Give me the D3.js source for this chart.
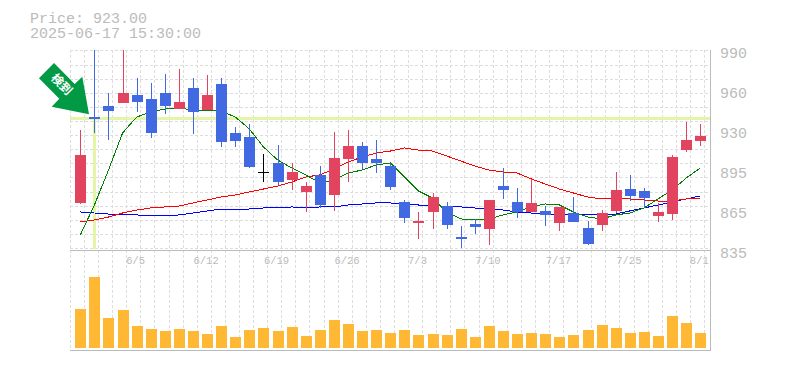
<!DOCTYPE html>
<html>
<head>
<meta charset="utf-8">
<script src="https://cdn.jsdelivr.net/npm/d3@7"></script>
<style>
  html, body { margin: 0; padding: 0; background: #fff; }
  svg { display: block; }
  text { font-family: "Liberation Mono", monospace; fill: #bbb; }
</style>
</head>
<body>
<div class="canvas"></div>
<script>
// chart data
const dates = ["5/30","6/2","6/3","6/4","6/5","6/6","6/9","6/10","6/11","6/12","6/13","6/16","6/17","6/18","6/19","6/20","6/23","6/24","6/25","6/26","6/27","6/30","7/1","7/2","7/3","7/4","7/7","7/8","7/9","7/10","7/11","7/14","7/15","7/16","7/17","7/18","7/22","7/23","7/24","7/25","7/28","7/29","7/30","7/31","8/1"];
const opens = [873.8,940.4,948.9,951.2,957.5,954.4,959.0,946.6,962.9,945.8,966.0,928.0,924.9,897.8,904.8,891.6,882.3,895.5,880.0,907.9,917.9,907.9,902.4,874.5,858.3,866.8,871.4,847.4,857.5,853.6,886.9,874.5,866.8,867.6,858.3,866.0,854.4,856.7,867.6,884.6,883.0,863.7,865.2,914.8,921.8];
const highs = [930.3,992.3,959.0,992.3,970.6,966.8,973.7,977.6,970.6,972.9,970.6,932.7,935.0,911.7,918.7,904.8,890.0,902.4,928.8,930.3,921.0,922.6,904.8,876.1,866.8,881.5,874.5,855.9,861.4,876.1,900.9,885.4,892.4,871.4,870.7,878.4,859.8,868.3,897.8,895.5,885.4,873.8,911.0,936.5,935.0];
const lows = [873.0,928.0,922.6,951.2,944.3,924.1,942.7,946.6,927.2,945.8,917.2,917.2,900.9,890.0,887.7,883.8,866.8,869.9,867.6,890.0,900.1,897.0,883.8,858.3,845.9,853.6,853.6,838.9,849.7,841.2,876.9,862.1,866.8,855.9,852.1,859.0,841.2,852.1,866.0,875.3,869.9,859.0,860.6,913.3,917.9];
const closes = [911.0,938.8,945.0,959.0,952.0,928.0,948.9,952.0,944.3,957.5,921.0,921.8,901.7,897.8,890.0,897.8,886.9,872.2,908.6,917.9,904.8,904.8,886.2,862.1,859.8,878.4,856.7,845.9,855.2,876.1,883.8,866.8,873.8,864.5,870.7,859.0,842.0,866.0,883.8,879.2,877.6,866.8,909.4,922.6,925.7];
const volumes = [390,710,300,380,220,190,170,190,170,140,220,110,180,200,170,210,120,180,280,240,170,180,150,180,130,140,130,190,110,220,170,140,150,140,110,130,180,230,200,150,160,120,320,250,150];

// moving averages
const maShort = [849.0,872.2,899.3,928.0,940.4,944.3,946.6,947.4,945.8,945.8,945.0,940.4,931.1,917.2,907.1,900.9,895.5,889.3,891.6,897.0,899.3,903.2,904.8,893.9,883.0,877.6,866.8,861.4,860.6,861.4,864.5,866.8,870.7,873.0,872.2,866.8,862.9,861.4,864.5,866.0,869.9,876.9,883.8,893.1,900.9];
const maMid = [859.0,860.6,862.9,866.0,868.3,869.9,870.7,871.4,873.8,876.1,878.4,880.0,882.3,884.6,886.9,890.0,893.9,895.5,900.1,905.5,909.4,912.5,914.0,916.4,914.8,914.0,910.2,906.3,902.4,899.3,897.8,897.0,892.4,888.5,884.6,881.5,878.4,876.9,876.9,876.9,876.1,875.3,875.3,876.9,877.6];
const maLong = [866.8,866.0,865.2,865.2,864.5,863.7,863.7,864.5,866.0,867.6,869.1,869.1,869.1,869.9,869.9,870.7,869.9,870.7,870.7,872.2,873.0,873.8,873.8,873.0,872.2,872.2,870.7,870.7,869.9,869.1,868.3,866.8,866.0,865.2,865.2,864.5,864.5,864.5,865.2,867.6,869.9,872.2,874.5,876.9,879.2];

// tick labels
const priceTicks = [990,959,928,897,866,835];
const priceLabels = ["990","960","930","895","865","835"];
const dateTicks = ["6/5","6/12","6/19","6/26","7/3","7/10","7/17","7/25","8/1"];

// signal mark
const signalDate = "6/2";
const signalPrice = 940;
const signalText = "検到";
const header = ["Price: 923.00", "2025-06-17 15:30:00"];

const svg = d3.select(".canvas")
  .append("svg")
  .attr("width", 785)
  .attr("height", 370);

const plot = {'left': 70, 'right': 710, 'top': 50, 'priceBottom': 250, 'volBottom': 350};

// scales
const x = d3.scalePoint().domain(dates).range([80.3, 700.3]);
const y = d3.scaleLinear().domain([835, 990]).range([253, 53]);
const v = d3.scaleLinear().domain([0, d3.max(volumes)]).range([348, 277]);

const px = d => Math.round(x(d));

// grid
const grid = svg.append("g")
  .attr("stroke", "#ddd")
  .attr("stroke-dasharray", "3,2")
  .attr("shape-rendering", "crispEdges");

grid.selectAll(".v")
  .data([null, ...dates])
  .enter().append("line")
  .attr("x1", d => d === null ? plot.left + 0.5 : Math.round(x(d) + 3.7) + 0.5)
  .attr("x2", d => d === null ? plot.left + 0.5 : Math.round(x(d) + 3.7) + 0.5)
  .attr("y1", plot.top)
  .attr("y2", plot.volBottom);

grid.selectAll(".h")
  .data(d3.range(15))
  .enter().append("line")
  .attr("x1", plot.left)
  .attr("x2", plot.right)
  .attr("y1", i => Math.round(50.4 + i * 14.12) + 0.5)
  .attr("y2", i => Math.round(50.4 + i * 14.12) + 0.5);

// volume bars
svg.append("g").selectAll("rect")
  .data(volumes)
  .enter().append("rect")
  .attr("x", (d, i) => px(dates[i]) - 5)
  .attr("y", d => Math.round(v(d)))
  .attr("width", 11)
  .attr("height", d => 348 - Math.round(v(d)))
  .attr("fill", "#ffb833");

// signal lines
svg.append("rect")
  .attr("x", plot.left)
  .attr("y", Math.round(y(signalPrice)) - 1)
  .attr("width", plot.right - plot.left)
  .attr("height", 3)
  .attr("fill", "#e4f5a8");

svg.append("rect")
  .attr("x", px(signalDate) - 1)
  .attr("y", Math.round(y(signalPrice)))
  .attr("width", 3)
  .attr("height", 249 - Math.round(y(signalPrice)))
  .attr("fill", "#e4f5a8");

// moving average lines
const line = d3.line()
  .x((d, i) => x(dates[i]))
  .y(d => y(d));

[[maLong, "#0000ff"], [maMid, "#ff0000"], [maShort, "#008000"]].forEach(s => {
  svg.append("path")
    .attr("d", line(s[0]))
    .attr("fill", "none")
    .attr("stroke", s[1])
    .attr("stroke-width", 1)
    .attr("shape-rendering", "crispEdges");
});

// candles
const candleColor = i => closes[i] > opens[i] ? "#e2435f" : closes[i] < opens[i] ? "#4169e1" : "#000";

svg.append("clipPath").attr("id", "plot")
  .append("rect")
  .attr("x", plot.left).attr("y", plot.top)
  .attr("width", plot.right - plot.left).attr("height", plot.priceBottom - plot.top);

const candles = svg.append("g")
  .attr("clip-path", "url(#plot)")
  .attr("shape-rendering", "crispEdges");

candles.selectAll(".wick")
  .data(dates)
  .enter().append("rect")
  .attr("x", d => px(d))
  .attr("y", (d, i) => Math.round(y(highs[i])))
  .attr("width", 1)
  .attr("height", (d, i) => Math.round(y(lows[i])) - Math.round(y(highs[i])))
  .attr("fill", (d, i) => candleColor(i));

candles.selectAll(".body")
  .data(dates)
  .enter().append("rect")
  .attr("x", d => px(d) - 5)
  .attr("y", (d, i) => Math.round(y(Math.max(opens[i], closes[i]))))
  .attr("width", 11)
  .attr("height", (d, i) => Math.max(1, Math.round(y(Math.min(opens[i], closes[i]))) - Math.round(y(Math.max(opens[i], closes[i])))))
  .attr("fill", (d, i) => candleColor(i));

// frame
svg.append("path")
  .attr("d", `M${plot.left},${plot.priceBottom + 0.5}H${plot.right}M${plot.left},${plot.volBottom + 0.5}H${plot.right + 0.5}M${plot.right + 0.5},${plot.top}V${plot.volBottom}`)
  .attr("fill", "none")
  .attr("stroke", "#bbb")
  .attr("shape-rendering", "crispEdges");

// axes
const yAxis = d3.axisRight(y)
  .tickValues(priceTicks)
  .tickFormat((d, i) => priceLabels[i])
  .tickSize(0)
  .tickPadding(10);

const xAxis = d3.axisBottom(x)
  .tickValues(dateTicks)
  .tickSize(0)
  .tickPadding(7);

const yAxisGroup = svg.append("g")
  .attr("transform", `translate(${plot.right},0)`)
  .call(yAxis);
yAxisGroup.select(".domain").remove();
yAxisGroup.selectAll("text")
  .style("font-family", '"Liberation Mono", monospace')
  .style("font-size", "15px")
  .style("fill", "#bbb");

const xAxisGroup = svg.append("g")
  .attr("transform", `translate(-1.5,${plot.priceBottom})`)
  .call(xAxis);
xAxisGroup.select(".domain").remove();
xAxisGroup.selectAll("text")
  .style("font-family", '"Liberation Mono", monospace')
  .style("font-size", "10.5px")
  .style("fill", "#bbb");

// header
svg.selectAll(".header")
  .data(header)
  .enter().append("text")
  .attr("x", 30)
  .attr("y", (d, i) => 23 + i * 15)
  .attr("font-size", 15)
  .text(d => d);

// signal arrow
svg.append("polygon")
  .attr("points", "54,63 74.7,84 82.3,76.7 89,114.3 51.7,106.7 59.3,98.7 39,78.3")
  .attr("fill", "#009944");

svg.append("text")
  .attr("transform", "translate(61,85) rotate(45)")
  .attr("text-anchor", "middle")
  .attr("dominant-baseline", "middle")
  .style("font-family", '"Noto Sans CJK JP", sans-serif')
  .style("font-size", "12px")
  .style("font-weight", "bold")
  .style("fill", "#fff")
  .text(signalText);
</script>
</body>
</html>
